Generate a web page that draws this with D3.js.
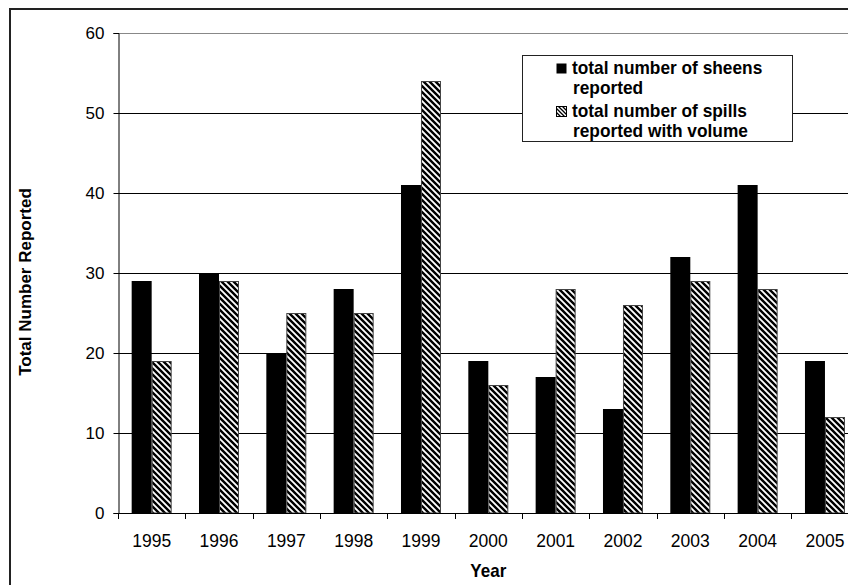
<!DOCTYPE html>
<html><head><meta charset="utf-8">
<script src="https://cdn.jsdelivr.net/npm/d3@7"></script>
<style>body{margin:0;background:#fff}svg{display:block}text{font-family:Arial,"Liberation Sans",sans-serif}</style>
</head><body>
<svg id="c" width="848" height="585"></svg>
<script>
const years = ["1995","1996","1997","1998","1999","2000","2001","2002","2003","2004","2005"];
const sheens = [29,30,20,28,41,19,17,13,32,41,19];
const spills = [19,29,25,25,54,16,28,26,29,28,12];
const yTicks = [0,10,20,30,40,50,60];
const seriesNames = ["total number of sheens|reported","total number of spills|reported with volume"];

const svg = d3.select("#c");
const L = 118, T = 33, B = 513, R = 118 + 11*67.33;

const defs = svg.append("defs");
const pat = defs.append("pattern").attr("id","hatch").attr("patternUnits","userSpaceOnUse")
  .attr("width",6).attr("height",6);
pat.append("rect").attr("width",6).attr("height",6).attr("fill","#fff");
pat.append("path").attr("d","M0,0L6,6M5,-1L7,1M-1,5L1,7").attr("stroke","#000").attr("stroke-width",2.4);
const patS = defs.append("pattern").attr("id","hatchS").attr("patternUnits","userSpaceOnUse")
  .attr("width",4).attr("height",4);
patS.append("rect").attr("width",4).attr("height",4).attr("fill","#fff");
patS.append("path").attr("d","M0,0L4,4M3,-1L5,1M-1,3L1,5").attr("stroke","#000").attr("stroke-width",1.3);

// outer frame
svg.append("rect").attr("x",10).attr("y",9).attr("width",1000).attr("height",1000)
  .attr("fill","none").attr("stroke","#222").attr("stroke-width",2);

const x = d3.scaleBand().domain(years).range([L,R]).padding(0);
const y = d3.scaleLinear().domain([0,60]).range([B,T]);

// gridlines
svg.append("g").selectAll("line").data(yTicks.filter(d=>d>0)).join("line")
  .attr("x1",L).attr("x2",R).attr("y1",d=>Math.round(y(d))+0.5).attr("y2",d=>Math.round(y(d))+0.5)
  .attr("stroke",d=>d===60?"#888":"#000").attr("stroke-width",1);

// bars
const gw = x.bandwidth()*0.594, off = (x.bandwidth()-gw)/2, bw = gw/2;
svg.append("g").selectAll("rect").data(years).join("rect")
  .attr("x",d=>x(d)+off).attr("width",bw)
  .attr("y",(d,i)=>y(sheens[i])).attr("height",(d,i)=>y(0)-y(sheens[i]))
  .attr("fill","#000");
svg.append("g").selectAll("rect").data(years).join("rect")
  .attr("x",d=>x(d)+off+bw+0.5).attr("width",bw-1)
  .attr("y",(d,i)=>y(spills[i])+0.5).attr("height",(d,i)=>y(0)-y(spills[i])-0.5)
  .attr("fill","url(#hatch)").attr("stroke","#444").attr("stroke-width",1);

// y axis
const ya = svg.append("g").attr("transform",`translate(${L+0.5},0)`)
  .call(d3.axisLeft(y).tickValues(yTicks).tickSize(5).tickPadding(9));
ya.select(".domain").attr("stroke","#000");
ya.selectAll(".tick line").attr("stroke","#000");
ya.selectAll("text").attr("font-size",17).attr("fill","#000").attr("font-family","Arial, 'Liberation Sans', sans-serif");

// x axis labels
svg.append("g").selectAll("text").data(years).join("text")
  .attr("transform",d=>`translate(${x(d)+x.bandwidth()/2},546.5) scale(1,1.1)`)
  .attr("text-anchor","middle").attr("font-size",17.5).attr("fill","#000").text(d=>d);
// x axis line and boundary ticks
svg.append("line").attr("x1",L).attr("x2",R).attr("y1",B+0.5).attr("y2",B+0.5).attr("stroke","#000");
const bounds = years.map(d=>x(d)).concat([x(years[years.length-1])+x.bandwidth()]);
svg.append("g").selectAll("line").data(bounds).join("line")
  .attr("x1",d=>Math.round(d)+0.5).attr("x2",d=>Math.round(d)+0.5).attr("y1",B).attr("y2",B+6).attr("stroke","#000");

// axis titles
svg.append("text").attr("transform",`translate(${(L+R)/2},577) scale(1,1.08)`).attr("text-anchor","middle")
  .attr("font-size",17).attr("font-weight","bold").text("Year");
svg.append("text").attr("transform","translate(31,282) rotate(-90)").attr("text-anchor","middle")
  .attr("font-size",17).attr("font-weight","bold").text("Total Number Reported");

// legend
const lg = svg.append("g");
lg.append("rect").attr("x",522.5).attr("y",55.5).attr("width",270).attr("height",86)
  .attr("fill","#fff").attr("stroke","#222").attr("stroke-width",1);
const fills = ["#000","url(#hatchS)"];
const ys = [63,106];
seriesNames.forEach((n,i)=>{
  lg.append("rect").attr("x",556.5).attr("y",ys[i]+0.5).attr("width",10).attr("height",10)
    .attr("fill",fills[i]).attr("stroke",i?"#000":"none");
  const parts = n.split("|");
  parts.forEach((p,j)=>{
    lg.append("text").attr("transform",`translate(${j?573:572},${ys[i]+10.5+j*20}) scale(1,1.08)`).attr("font-size",17.3)
      .attr("font-weight","bold").text(p);
  });
});
</script>
</body></html>
